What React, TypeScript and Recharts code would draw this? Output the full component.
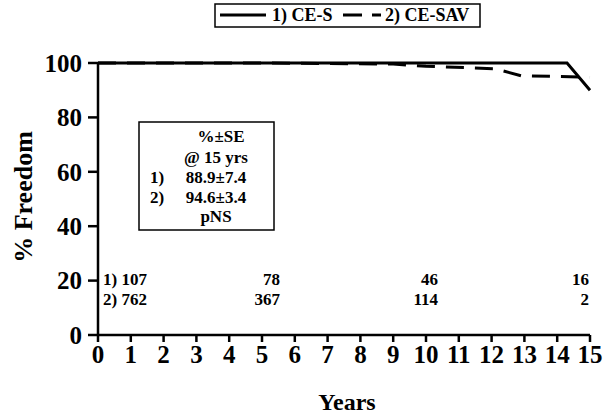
import React from 'react';
import { LineChart, Line, XAxis, YAxis } from 'recharts';

const xTicks = [0, 1, 2, 3, 4, 5, 6, 7, 8, 9, 10, 11, 12, 13, 14, 15];
const yTicks = [0, 20, 40, 60, 80, 100];

const solidYears = [0, 14.3, 15];
const solidFreedom = [100, 100, 90];

const dashYears = [0, 5, 9, 10, 12.1, 12.9, 15];
const dashFreedom = [100, 100, 99.6, 98.8, 97.9, 95.3, 94.8];

const seriesNames = ['1) CE-S', '2) CE-SAV'];
const atRisk1 = ['1) 107', '78', '46', '16'];
const atRisk2 = ['2) 762', '367', '114', '2'];
const statLines = ['%±SE', '@ 15 yrs', '88.9±7.4', '94.6±3.4', 'pNS'];
const statRowLabels = ['', '', '1)', '2)', ''];

const solidData = solidYears.map((year, i) => ({ year, value: solidFreedom[i] }));
const dashData = dashYears.map((year, i) => ({ year, value: dashFreedom[i] }));

const FONT = "'Liberation Serif', 'Times New Roman', Times, serif";
const W = 614;
const H = 416;

const atRiskRight = [147, 280, 438, 589];
const statY = [142, 163, 183, 203, 222];

export default function App() {
  const tickStyle = { fill: '#000', fontSize: 25, fontWeight: 'bold', fontFamily: FONT };
  return (
    <div style={{ position: 'absolute', left: 0, top: 0, width: W, height: H, background: '#fff', fontFamily: FONT }}>
      <LineChart width={W} height={H} margin={{ top: 63, right: 24, bottom: 0, left: 0 }} style={{ fontFamily: FONT }}>
        <XAxis
          dataKey="year"
          type="number"
          domain={[0, 15]}
          ticks={xTicks}
          interval={0}
          height={81}
          stroke="#000"
          strokeWidth={2.5}
          tickSize={7}
          tickMargin={3}
          tick={tickStyle}
          allowDuplicatedCategory={false}
        />
        <YAxis
          type="number"
          domain={[0, 100]}
          ticks={yTicks}
          interval={0}
          width={98}
          stroke="#000"
          strokeWidth={2.5}
          tickSize={10}
          tickMargin={6}
          tick={tickStyle}
        />
        <Line
          data={solidData}
          dataKey="value"
          type="linear"
          stroke="#000"
          strokeWidth={3}
          dot={false}
          isAnimationActive={false}
          name={seriesNames[0]}
        />
        <Line
          data={dashData}
          dataKey="value"
          type="linear"
          stroke="#000"
          strokeWidth={3}
          strokeDasharray="18 11"
          dot={false}
          isAnimationActive={false}
          name={seriesNames[1]}
        />
      </LineChart>
      <svg
        width={W}
        height={H}
        style={{ position: 'absolute', left: 0, top: 0, pointerEvents: 'none', fontFamily: FONT, fontWeight: 'bold' }}
      >
        {/* legend */}
        <rect x={215} y={4} width={265} height={23} fill="none" stroke="#000" strokeWidth={1.5} />
        <line x1={220} y1={15} x2={266} y2={15} stroke="#000" strokeWidth={3} />
        <text x={272} y={21} fontSize={18}>{seriesNames[0]}</text>
        <line x1={343} y1={15} x2={381} y2={15} stroke="#000" strokeWidth={3} strokeDasharray="19 10" />
        <text x={385} y={21} fontSize={18}>{seriesNames[1]}</text>

        {/* axis titles */}
        <text x={347} y={410} fontSize={24} textAnchor="middle">Years</text>
        <text
          x={23}
          y={197}
          fontSize={26}
          textAnchor="middle"
          dominantBaseline="central"
          transform="rotate(-90 23 197)"
        >
          % Freedom
        </text>

        {/* stats box */}
        <rect x={139} y={122} width={135} height={108} fill="#fff" stroke="#000" strokeWidth={1.5} />
        {statLines.map((s, i) => (
          <text key={'s' + i} x={i === 0 ? 221 : 216} y={statY[i]} fontSize={17} textAnchor="middle">
            {s}
          </text>
        ))}
        {statRowLabels.map((s, i) =>
          s ? (
            <text key={'r' + i} x={150} y={statY[i]} fontSize={17}>
              {s}
            </text>
          ) : null
        )}

        {/* numbers at risk */}
        {atRisk1.map((s, i) => (
          <text key={'a' + i} x={atRiskRight[i]} y={285} fontSize={17} textAnchor="end">
            {s}
          </text>
        ))}
        {atRisk2.map((s, i) => (
          <text key={'b' + i} x={atRiskRight[i]} y={305} fontSize={17} textAnchor="end">
            {s}
          </text>
        ))}
      </svg>
    </div>
  );
}
